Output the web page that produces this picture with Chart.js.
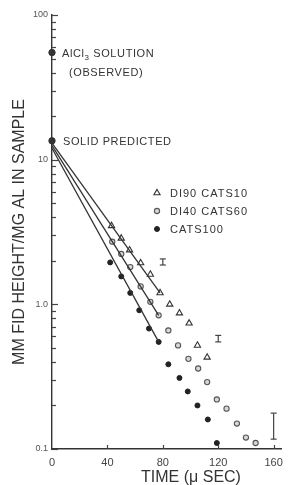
<!DOCTYPE html>
<html>
<head>
<meta charset="utf-8">
<script src="https://cdn.jsdelivr.net/npm/chart.js@4.4.0/dist/chart.umd.min.js"></script>
<style>
html, body { margin: 0; padding: 0; background: #fff; }
#wrap { width: 290px; height: 485px; }
</style>
</head>
<body>
<div id="wrap"><canvas id="graph" width="290" height="485"></canvas></div>
<script>
// DI90 CATS10 - open triangles
const triTimes = [43, 50, 56, 64, 71, 78, 85, 92, 99, 105, 112];
const triValues = [3.49, 2.86, 2.37, 1.93, 1.61, 1.20, 1.00, 0.87, 0.74, 0.52, 0.43];
// DI40 CATS60 - open circles
const circTimes = [43.5, 50, 56.5, 64, 71, 77, 84, 91, 98.5, 105.5, 112, 119, 126, 133.5, 140, 147];
const circValues = [2.71, 2.23, 1.81, 1.33, 1.04, 0.84, 0.66, 0.52, 0.42, 0.36, 0.29, 0.22, 0.19, 0.15, 0.12, 0.11];
// CATS100 - filled dots
const dotTimes = [42, 50, 56.5, 63, 70, 77, 84, 92, 98, 105, 112.5, 119];
const dotValues = [1.95, 1.56, 1.20, 0.91, 0.68, 0.55, 0.385, 0.31, 0.25, 0.20, 0.16, 0.11];

// fitted lines (start, end)
const triLineTimes = [0, 78];
const triLineValues = [13, 1.2];
const circLineTimes = [0, 77];
const circLineValues = [12.5, 0.84];
const dotLineTimes = [0, 77];
const dotLineValues = [12, 0.55];

// reference points on the axis
const refTimes = [0, 0];
const refValues = [55, 13.5];

// error bars
const errTimes = [80, 120, 160];
const errLow = [1.87, 0.55, 0.117];
const errHigh = [2.06, 0.61, 0.177];

// axis ticks
const xTickValues = [0, 40, 80, 120, 160];
const yTickValues = [0.1, 1, 10, 100];
const yTickLabels = ['0.1', '1.0', '10', '100'];
const yMinorTicks = [];
[0.1, 1, 10].forEach(d => { for (let m = 1; m < 10; m++) yMinorTicks.push(+(d * m).toPrecision(3)); });
yMinorTicks.push(100);

const legendNames = ['DI90 CATS10', 'DI40 CATS60', 'CATS100'];

const ink = '#333';
const toXY = (xs, ys) => xs.map((x, i) => ({x: x, y: ys[i]}));

let datasets = [
    {type: 'line', data: toXY(triLineTimes, triLineValues), borderColor: ink, borderWidth: 1.3, pointRadius: 0, clip: false},
    {type: 'line', data: toXY(circLineTimes, circLineValues), borderColor: ink, borderWidth: 1.3, pointRadius: 0, clip: false},
    {type: 'line', data: toXY(dotLineTimes, dotLineValues), borderColor: ink, borderWidth: 1.3, pointRadius: 0, clip: false},
    {label: legendNames[0], data: toXY(triTimes, triValues), pointStyle: 'triangle', pointRadius: 3.6,
     backgroundColor: '#fff', borderColor: ink, borderWidth: 1.1},
    {label: legendNames[1], data: toXY(circTimes, circValues), pointStyle: 'circle', pointRadius: 2.6,
     backgroundColor: '#d8d8d8', borderColor: '#555', borderWidth: 1.1},
    {label: legendNames[2], data: toXY(dotTimes, dotValues), pointStyle: 'circle', pointRadius: 2.5,
     backgroundColor: '#222', borderColor: '#222', borderWidth: 1},
    {data: toXY(refTimes, refValues), pointStyle: 'circle', pointRadius: 3.2,
     backgroundColor: '#333', borderColor: '#333', clip: false}
];
errTimes.forEach((t, i) => {
    datasets.push({type: 'line', data: [{x: t, y: errLow[i]}, {x: t, y: errHigh[i]}],
        borderColor: '#444', borderWidth: 1.2, pointStyle: 'line', pointRadius: 3,
        pointBorderColor: '#444', pointBorderWidth: 1.2, clip: false});
});

function line(ctx, x1, y1, x2, y2) {
    ctx.beginPath(); ctx.moveTo(x1, y1); ctx.lineTo(x2, y2); ctx.stroke();
}

const decorations = {
    id: 'decorations',
    afterDraw(chart) {
        const ctx = chart.ctx;
        const xs = chart.scales.x, ys = chart.scales.y;
        const area = chart.chartArea;
        ctx.save();
        // inward tick marks
        ctx.strokeStyle = '#444';
        ctx.lineWidth = 1.2;
        yMinorTicks.forEach(v => {
            const y = Math.round(ys.getPixelForValue(v)) + 0.5;
            const len = yTickValues.includes(v) ? 6 : 4;
            line(ctx, area.left, y, area.left + len, y);
        });
        xTickValues.forEach(v => {
            if (v === 0) return;
            const x = Math.round(xs.getPixelForValue(v)) + 0.5;
            line(ctx, x, area.bottom, x, area.bottom - 4);
        });

        ctx.fillStyle = ink;
        ctx.textBaseline = 'alphabetic';
        ctx.textAlign = 'left';
        ctx.font = '11px "Liberation Sans", Arial, sans-serif';
        ctx.letterSpacing = '0.6px';

        // AlCl3 SOLUTION (OBSERVED)
        let x0 = xs.getPixelForValue(refTimes[0]) + 10;
        let y0 = ys.getPixelForValue(refValues[0]) + 4;
        ctx.fillText('AlCl', x0, y0);
        let w = ctx.measureText('AlCl').width;
        ctx.font = '8px "Liberation Sans", Arial, sans-serif';
        ctx.fillText('3', x0 + w, y0 + 3);
        w += ctx.measureText('3').width;
        ctx.font = '11px "Liberation Sans", Arial, sans-serif';
        ctx.fillText(' SOLUTION', x0 + w, y0);
        ctx.fillText('(OBSERVED)', x0 + 7, y0 + 19);

        // SOLID PREDICTED
        x0 = xs.getPixelForValue(refTimes[1]) + 11;
        y0 = ys.getPixelForValue(refValues[1]) + 4;
        ctx.fillText('SOLID PREDICTED', x0, y0);

        // legend
        const lx = area.left + 105, ly = area.top + 178;
        const styles = [datasets[3], datasets[4], datasets[5]];
        styles.forEach((ds, i) => {
            const yy = ly + i * 18;
            ctx.fillStyle = ds.backgroundColor;
            ctx.strokeStyle = ds.borderColor;
            ctx.lineWidth = ds.borderWidth;
            Chart.helpers.drawPoint(ctx, {pointStyle: ds.pointStyle, radius: ds.pointRadius, rotation: 0, borderWidth: ds.borderWidth}, lx, yy);
            ctx.fillStyle = ink;
            ctx.letterSpacing = '1px';
            ctx.fillText(legendNames[i], lx + 13, yy + 4);
        });

        // axis titles
        ctx.letterSpacing = '0px';
        ctx.font = '16px "Liberation Sans", Arial, sans-serif';
        ctx.textAlign = 'center';
        ctx.fillText('TIME (\u03bc SEC)', 191, 482);
        ctx.save();
        ctx.translate(24, (area.top + area.bottom) / 2);
        ctx.rotate(-Math.PI / 2);
        ctx.fillText('MM FID HEIGHT/MG AL IN SAMPLE', 0, 0);
        ctx.restore();
        ctx.restore();
    }
};

new Chart(document.getElementById('graph').getContext('2d'), {
    type: 'scatter',
    data: {datasets: datasets},
    plugins: [decorations],
    options: {
        responsive: false,
        animation: false,
        devicePixelRatio: 1,
        layout: {padding: {top: 15, right: 0, left: 0, bottom: 0}},
        plugins: {legend: {display: false}, tooltip: {enabled: false}},
        scales: {
            x: {
                type: 'linear', min: 0, max: 166,
                afterBuildTicks: s => { s.ticks = xTickValues.map(v => ({value: v})); },
                afterFit: s => { s.height = 36; },
                grid: {display: false, drawTicks: false},
                border: {display: true, color: ink, width: 1.4},
                ticks: {padding: 7, color: '#444', font: {size: 11, family: '"Liberation Sans", Arial, sans-serif'}}
            },
            y: {
                type: 'logarithmic', min: 0.1, max: 100,
                afterBuildTicks: s => { s.ticks = yTickValues.map(v => ({value: v})); },
                afterFit: s => { s.width = 52; },
                grid: {display: false, drawTicks: false},
                border: {display: true, color: ink, width: 1.4},
                ticks: {
                    padding: 4, color: '#555',
                    font: {size: 9, family: '"Liberation Sans", Arial, sans-serif'},
                    callback: v => { const i = yTickValues.indexOf(v); return i >= 0 ? yTickLabels[i] : ''; }
                }
            }
        }
    }
});
</script>
</body>
</html>
